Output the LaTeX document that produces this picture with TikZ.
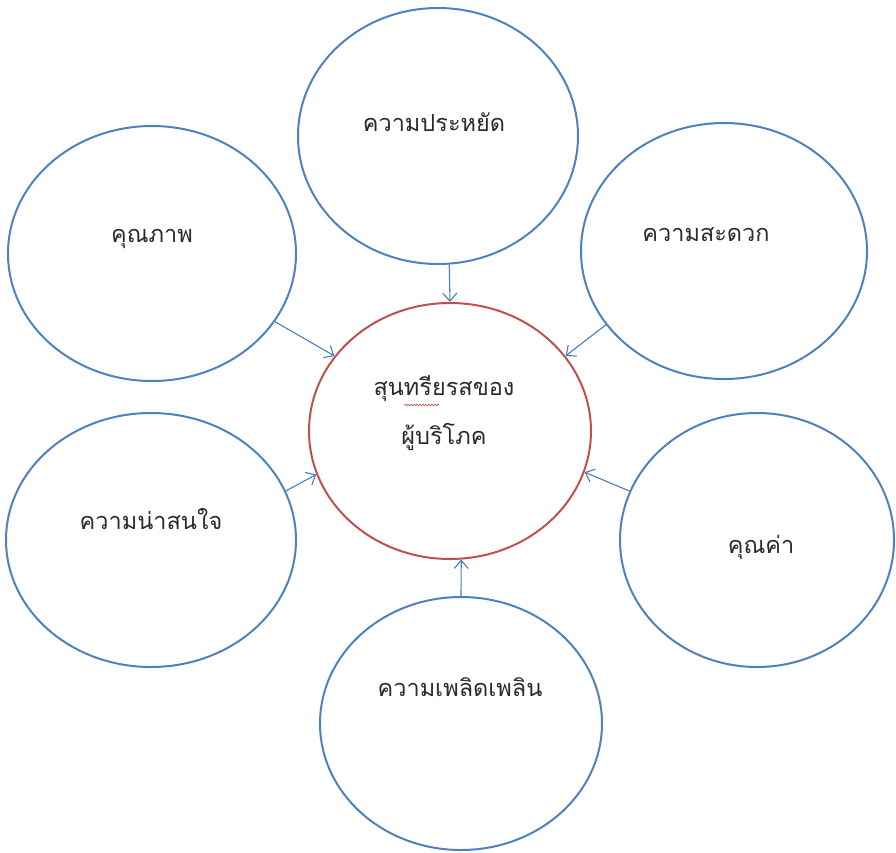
\documentclass[tikz,border=0pt]{standalone}
\usepackage{fontspec}
\newfontfamily\thaifont[Script=Thai]{Loma}
\usetikzlibrary{shapes.geometric,arrows.meta,decorations.pathmorphing}
\definecolor{ellblue}{HTML}{4F81BD}
\definecolor{ellred}{HTML}{C0504D}
\definecolor{arrblue}{HTML}{4A7EBB}
\definecolor{txt}{HTML}{2B2B2B}
\tikzset{
  bubble/.style={ellipse, draw=ellblue, line width=2pt, inner sep=0pt},
  hub/.style={ellipse, draw=ellred, line width=2pt, inner sep=0pt},
  lbl/.style={font=\thaifont\fontsize{23.5}{27}\selectfont, text=txt, inner sep=0pt, anchor=center},
  link/.style={draw=arrblue, line width=1.1pt, -{Straight Barb[length=8pt,width=14pt,line width=1.1pt]}}
}
\begin{document}
\begin{tikzpicture}[x=1pt,y=-1pt]
\useasboundingbox (0,0) rectangle (896,852);
% ellipses
\node[hub, minimum width=282pt, minimum height=256pt] (c) at (450,431) {};
\node[bubble, minimum width=280pt, minimum height=256pt] (t) at (438,136) {};
\node[bubble, minimum width=288pt, minimum height=255pt] (lt) at (152,253.5) {};
\node[bubble, minimum width=286pt, minimum height=256pt] (rt) at (724,251) {};
\node[bubble, minimum width=290pt, minimum height=254pt] (lm) at (151,540) {};
\node[bubble, minimum width=274pt, minimum height=254pt] (rm) at (757,540) {};
\node[bubble, minimum width=282pt, minimum height=253pt] (b) at (461,723.5) {};
% labels
\node[lbl] (tl) at (434,122) {ความประหยัด};
\node[lbl] (ltl) at (152,239) {คุณภาพ};
\node[lbl] (rtl) at (706,235) {ความสะดวก};
\node[lbl] (cl1) at (444,389) {สุนทรียรสของ};
\node[lbl] (cl2) at (444,437) {ผู้บริโภค};
\node[lbl] (lml) at (151,519) {ความน่าสนใจ};
\node[lbl] (rml) at (761,547) {คุณค่า};
\node[lbl] (bl) at (460,687) {ความเพลิดเพลิน};
% spell-check squiggle
\draw[ellred, line width=0.6pt, decorate, decoration={snake, amplitude=0.9pt, segment length=3pt}] (404,405) -- (439,405);
% connectors
\draw[link] (t.-85) -- (c.90);
\draw[link] (lt.-29) -- (c.147);
\draw[link] (rt.-148) -- (c.33);
\draw[link] (lm.20.5) -- (c.-162.5);
\draw[link] (rm.159.3) -- (c.-17.5);
\draw[link] (b.90) -- (c.-85);
\end{tikzpicture}
\end{document}
